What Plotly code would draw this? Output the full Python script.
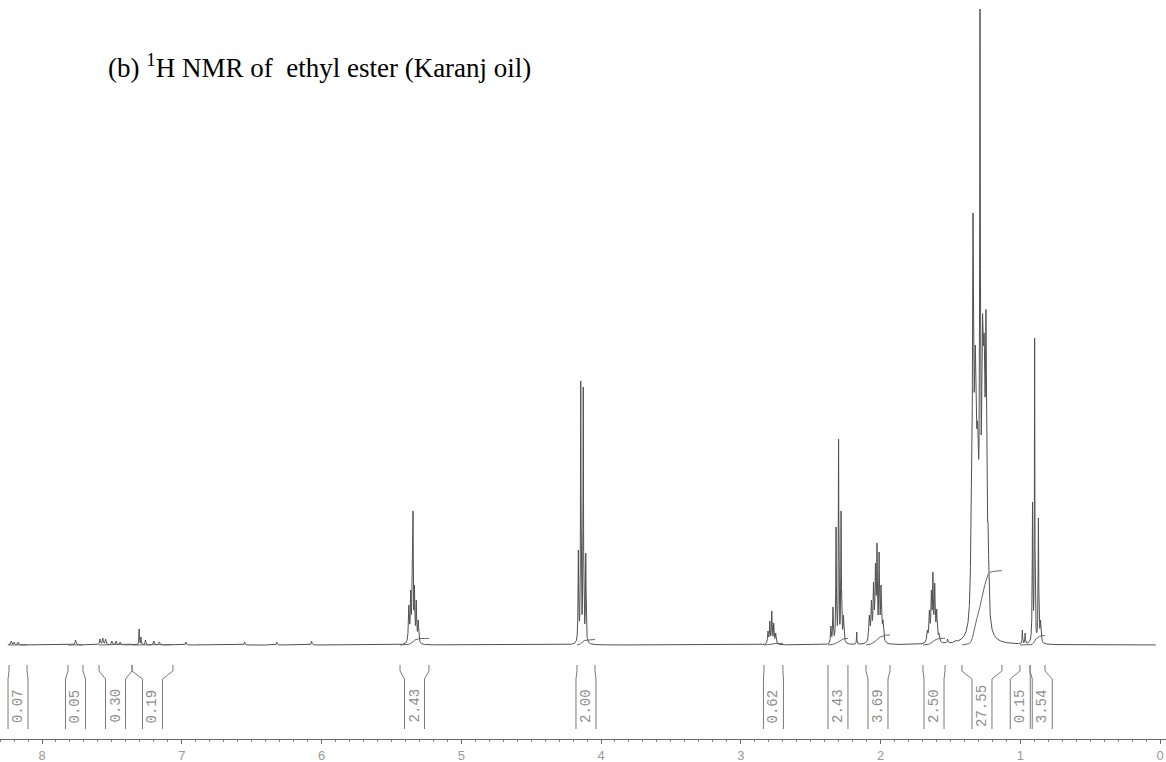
import numpy as np
import plotly.graph_objects as go

# ---- spectrum lines: chemical shift (ppm), peak height, half width (ppm) ----
shift = [
    8.22, 8.20, 8.17, 7.76, 7.585, 7.565, 7.545, 7.50, 7.47, 7.44,
    7.305, 7.292, 7.26, 7.20, 7.16, 6.97, 6.55, 6.32, 6.07,
    5.375, 5.362, 5.352, 5.345, 5.335, 5.322, 5.308,
    4.162, 4.145, 4.127, 4.109,
    2.805, 2.792, 2.778, 2.764, 2.750,
    2.355, 2.340, 2.318, 2.300, 2.282, 2.265,
    2.170,
    2.080, 2.065, 2.050, 2.036, 2.025, 2.010, 1.996, 1.982,
    1.665, 1.650, 1.636, 1.625, 1.612, 1.598, 1.582,
    1.520, 1.460,
    1.350, 1.338, 1.322, 1.305, 1.288, 1.270, 1.258, 1.245, 1.230, 1.215,
    0.985, 0.965,
    0.912, 0.897, 0.870, 0.855,
]
height = [
    4, 3, 3, 5, 6, 7, 6, 4, 4, 3,
    16, 8, 5, 4, 3, 3, 3, 3, 4,
    40, 55, 62, 134, 60, 45, 25,
    95, 264, 258, 92,
    14, 24, 34, 22, 12,
    19, 38, 118, 206, 134, 30,
    13,
    30, 45, 63, 82, 102, 93, 60, 25,
    15, 35, 55, 73, 62, 36, 12,
    6, 5,
    150, 432, 300, 223, 636, 330, 310, 335, 120, 30,
    15, 12,
    143, 307, 127, 25,
]
width = [
    0.004, 0.004, 0.004, 0.004, 0.004, 0.004, 0.004, 0.004, 0.004, 0.004,
    0.002, 0.002, 0.003, 0.004, 0.004, 0.003, 0.003, 0.003, 0.003,
    0.004, 0.003, 0.003, 0.002, 0.003, 0.003, 0.004,
    0.0025, 0.0022, 0.0022, 0.0025,
    0.004, 0.003, 0.003, 0.003, 0.004,
    0.003, 0.003, 0.0025, 0.002, 0.0025, 0.004,
    0.002,
    0.005, 0.004, 0.004, 0.004, 0.003, 0.003, 0.004, 0.005,
    0.005, 0.004, 0.004, 0.003, 0.004, 0.004, 0.005,
    0.003, 0.003,
    0.006, 0.005, 0.009, 0.009, 0.003, 0.008, 0.007, 0.005, 0.006, 0.006,
    0.002, 0.002,
    0.0025, 0.002, 0.0025, 0.004,
]

# ---- integration regions (ppm, left/right) and integral values ----
integ_left = [8.236, 7.814, 7.592, 7.356, 5.438, 4.172, 2.834, 2.376, 2.104,
              1.696, 1.417, 1.002, 0.930]
integ_right = [8.107, 7.707, 7.356, 7.063, 5.231, 4.043, 2.698, 2.233, 1.932,
               1.538, 1.131, 0.930, 0.823]
integ_value = [0.07, 0.05, 0.30, 0.19, 2.43, 2.00, 0.62, 2.43, 3.69,
               2.50, 27.55, 0.15, 3.54]
integ_text = ["0.07", "0.05", "0.30", "0.19", "2.43", "2.00", "0.62", "2.43",
              "3.69", "2.50", "27.55", "0.15", "3.54"]

tick_vals = [8, 7, 6, 5, 4, 3, 2, 1, 0]
tick_text = ["8", "7", "6", "5", "4", "3", "2", "1", "0"]

# ---- build the trace from Lorentzian lines ----
c = np.array(shift, float)
h = np.array(height, float)
w = np.array(width, float)


def lorentz(x, c0, w0):
    return 1.0 / (1.0 + ((x - c0) / w0) ** 2)


# amplitudes chosen so the summed trace reaches the listed heights at each line
A = lorentz(c[:, None], c[None, :], w[None, :])
amp = np.linalg.solve(A, h)

x = np.union1d(np.arange(0.03, 8.245, 0.0005), c)[::-1]
y = (amp[None, :] * lorentz(x[:, None], c[None, :], w[None, :])).sum(axis=1)

# ---- integral curves over each region ----
INT_SCALE = 2.7
ix, iy = [], []
for lo, hi, val in zip(integ_left, integ_right, integ_value):
    m = (x <= lo) & (x >= hi)
    xs, ys = x[m], y[m]
    cum = np.concatenate([[0.0], np.cumsum(0.5 * (ys[1:] + ys[:-1]) * np.abs(np.diff(xs)))])
    if cum[-1] > 0:
        cum = cum / cum[-1]
    ix += list(xs) + [None]
    iy += list(cum * val * INT_SCALE) + [None]

LINE = "#505050"
fig = go.Figure()
fig.add_trace(go.Scatter(x=x, y=y, mode="lines", line=dict(color=LINE, width=1),
                         hoverinfo="skip", showlegend=False))
fig.add_trace(go.Scatter(x=ix, y=iy, mode="lines", line=dict(color="#666666", width=1),
                         hoverinfo="skip", showlegend=False, connectgaps=False))

# ---- integral label brackets ----
PX_PER_PPM = 139.75
half = 10.0 / PX_PER_PPM
gap = 2.0 / PX_PER_PPM
centers = [(a + b) / 2 for a, b in zip(integ_left, integ_right)]
order = sorted(range(len(centers)), key=lambda i: -centers[i])
for _ in range(5):
    for k in range(len(order) - 1):
        i, j = order[k], order[k + 1]
        need = 2 * half + gap
        d = centers[i] - centers[j]
        if d < need:
            s = (need - d) / 2
            centers[i] += s
            centers[j] -= s

Y_TOP, Y_S1, Y_S2, Y_BOT, Y_TXT = -20, -26, -34, -84, -61
for lo, hi, cx, txt in zip(integ_left, integ_right, centers, integ_text):
    bl, br = cx + half, cx - half
    for top_x, bot_x in ((lo, bl), (hi, br)):
        fig.add_shape(type="path",
                      path=f"M {top_x},{Y_TOP} L {top_x},{Y_S1} L {bot_x},{Y_S2} L {bot_x},{Y_BOT}",
                      xref="x", yref="y", line=dict(color="#7a7a7a", width=1))
    fig.add_annotation(x=cx, y=Y_TXT, xref="x", yref="y", text=txt, textangle=-90,
                       showarrow=False, font=dict(family="Liberation Mono", size=14, color="#8c8c8c"))

# ---- title ----
fig.add_annotation(x=106 / 1166, y=1 - 66 / 739, xref="paper", yref="paper",
                   xanchor="left", yanchor="middle", showarrow=False,
                   text="(b) <sup>1</sup>H NMR of&nbsp; ethyl ester (Karanj oil)",
                   font=dict(family="Liberation Serif", size=27, color="black"))

x_left = 1160 / PX_PER_PPM
x_right = (1160 - 1166) / PX_PER_PPM
fig.update_layout(
    width=1166, height=762,
    margin=dict(l=0, r=0, t=0, b=23),
    paper_bgcolor="white", plot_bgcolor="white",
    xaxis=dict(range=[x_left, x_right], showgrid=False, zeroline=False,
               showline=True, linecolor="#6a6a6a", linewidth=1,
               ticks="outside", ticklen=4, tickcolor="#6a6a6a", tickwidth=1,
               tickvals=tick_vals, ticktext=tick_text,
               tickfont=dict(family="Liberation Sans", size=13, color="#9a9a9a"),
               minor=dict(dtick=0.1, ticks="outside", ticklen=2, tickcolor="#8a8a8a"),
               automargin=False),
    yaxis=dict(range=[-94, 645], visible=False, showgrid=False, zeroline=False,
               automargin=False),
)

fig.write_html("out.html")
